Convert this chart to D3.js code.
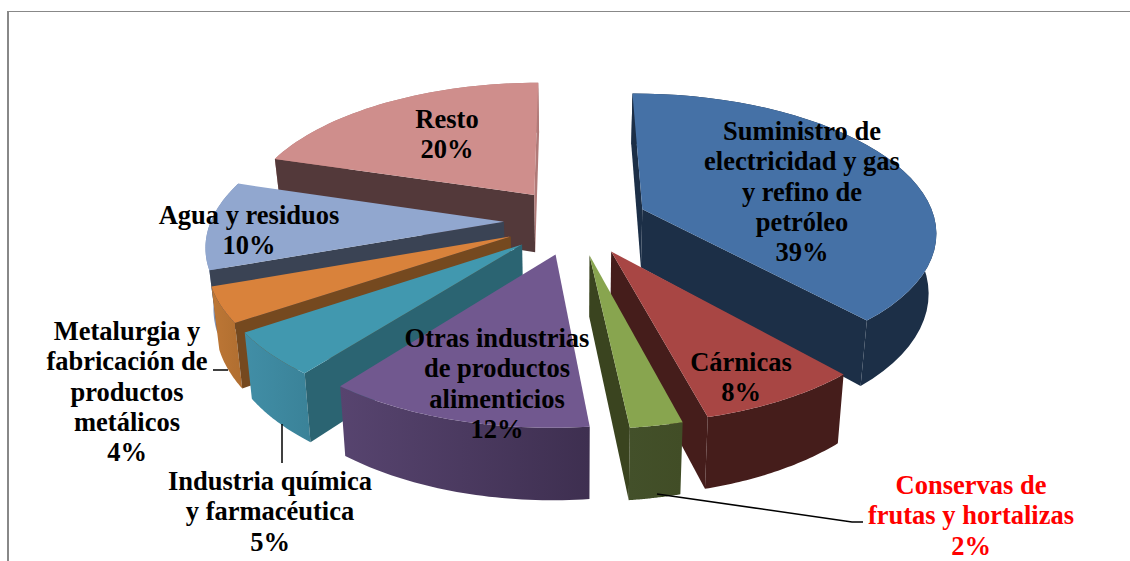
<!DOCTYPE html>
<html>
<head>
<meta charset="utf-8">
<script src="https://cdn.jsdelivr.net/npm/d3@7"></script>
<style>
	body { margin: 0; background: #fff; }
	svg { display: block; }
	text { font-family: "Liberation Serif", serif; font-weight: bold; font-size: 26.5px; text-anchor: middle; }
</style>
</head>
<body>
<svg id="chart" width="1130" height="561"></svg>
<script>
// values, clockwise from the top. Labels show them rounded
var shares = [38.5, 7.5, 2.4, 12.2, 5.0, 4.0, 10.2, 20.2];

var labelLines = [
	["Suministro de", "electricidad y gas", "y refino de", "petróleo"],
	["Cárnicas"],
	["Conservas de", "frutas y hortalizas"],
	["Otras industrias", "de productos", "alimenticios"],
	["Industria química", "y farmacéutica"],
	["Metalurgia y", "fabricación de", "productos", "metálicos"],
	["Agua y residuos"],
	["Resto"]
];

// styles
var topColors = ["#4571a6", "#a84644", "#88a54f", "#71588f", "#4198af", "#d9823b", "#91a7cf", "#cf8e8c"];
var rimLeft = ["#1c2f47", "#451d1b", "#43502a", "#57446f", "#418ea6", "#bd7736", "#7f93b8", "#b07a78"];
var rimRight = ["#1c2f47", "#451d1b", "#414d26", "#3e2f50", "#3a8298", "#b06e30", "#7f93b8", "#b07a78"];
var startWallColors = ["#1c2f47", "#451d1b", "#3a441f", "#3e2f50", "#2b6472", "#75491f", "#3a4354", "#53393a"];
var endWallColors = ["#1c2f47", "#451d1b", "#3a441f", "#3e2f50", "#2b6472", "#75491f", "#3a4354", "#b07a78"];
var labelColors = ["#000", "#000", "#f00", "#000", "#000", "#000", "#000", "#000"];

// label anchor (centre x, y of first baseline)
var labelX = [802, 741, 971, 497, 270, 127, 249, 447];
var labelY = [140, 371, 494, 347, 490, 340, 224, 128];
var lineStep = 30.3;

// projection of the tilted pie
var cx = 576, cy = 221, radius = 293, explode = 72;
var tilt = 0.465, persp = 0.15, zPersp = 0.022, drop = 59;
var firstAngle = -0.3 * Math.PI / 180;

function project(X, Y, z) {
	var s = 1 / (1 + persp * Y / radius);
	return [cx + X * s / (1 + zPersp * z), cy + (-tilt * Y + drop * z) * s];
}

var svg = d3.select("#chart");
var defs = svg.append("defs");
var line = d3.line();

// frame
svg.append("line").attr("x1", 7).attr("x2", 1130).attr("y1", 11.5).attr("y2", 11.5).attr("stroke", "#888").attr("stroke-width", 1);
svg.append("line").attr("x1", 8).attr("x2", 8).attr("y1", 11).attr("y2", 561).attr("stroke", "#888").attr("stroke-width", 2);

var arcs = d3.pie().sort(null).startAngle(firstAngle).endAngle(firstAngle + 2 * Math.PI)(shares);

arcs.forEach(function(d, i) {
	d.index = i;
	d.mid = (d.startAngle + d.endAngle) / 2;
	d.ox = explode * Math.sin(d.mid);
	d.oy = explode * Math.cos(d.mid);
	d.rim = d3.range(0, 41).map(function(k) { return d.startAngle + (d.endAngle - d.startAngle) * k / 40; });
});

function rimPoint(d, a, z) {
	return project(d.ox + radius * Math.sin(a), d.oy + radius * Math.cos(a), z);
}

function wallPoints(d, a) {
	return [project(d.ox, d.oy, 0), rimPoint(d, a, 0), rimPoint(d, a, 1), project(d.ox, d.oy, 1)];
}

// back slices first
var order = arcs.slice().sort(function(a, b) { return b.oy - a.oy; });

order.forEach(function(d) {
	var i = d.index;
	var g = svg.append("g");

	var grad = defs.append("linearGradient").attr("id", "rim" + i);
	grad.append("stop").attr("offset", 0).attr("stop-color", rimLeft[i]);
	grad.append("stop").attr("offset", 1).attr("stop-color", rimRight[i]);

	var upper = d.rim.map(function(a) { return rimPoint(d, a, 0); });
	var lower = d.rim.slice().reverse().map(function(a) { return rimPoint(d, a, 1); });
	g.append("path").attr("d", line(upper.concat(lower)) + "Z").attr("fill", "url(#rim" + i + ")");

	// only the cut faces that turn towards the viewer
	var startWall = wallPoints(d, d.startAngle), endWall = wallPoints(d, d.endAngle);
	if (d3.polygonArea(startWall) > 0) g.append("path").attr("d", line(startWall) + "Z").attr("fill", startWallColors[i]);
	if (d3.polygonArea(endWall) < 0) g.append("path").attr("d", line(endWall) + "Z").attr("fill", endWallColors[i]);

	g.append("path").attr("d", line([project(d.ox, d.oy, 0)].concat(upper)) + "Z").attr("fill", topColors[i]);
});

// leader lines of the outside labels
var leaders = [
	[[213, 370], [228, 370]],
	[[282, 424], [282, 463]],
	[[657, 494], [852, 522], [863, 522]]
];
leaders.forEach(function(p) {
	svg.append("path").attr("d", line(p)).attr("fill", "none").attr("stroke", "#000").attr("stroke-width", 1.5);
});

labelLines.forEach(function(lines, i) {
	var t = svg.append("text").attr("fill", labelColors[i]);
	lines.concat(Math.round(shares[i]) + "%").forEach(function(s, k) {
		t.append("tspan").attr("x", labelX[i]).attr("y", labelY[i] + k * lineStep).text(s);
	});
});
</script>
</body>
</html>
